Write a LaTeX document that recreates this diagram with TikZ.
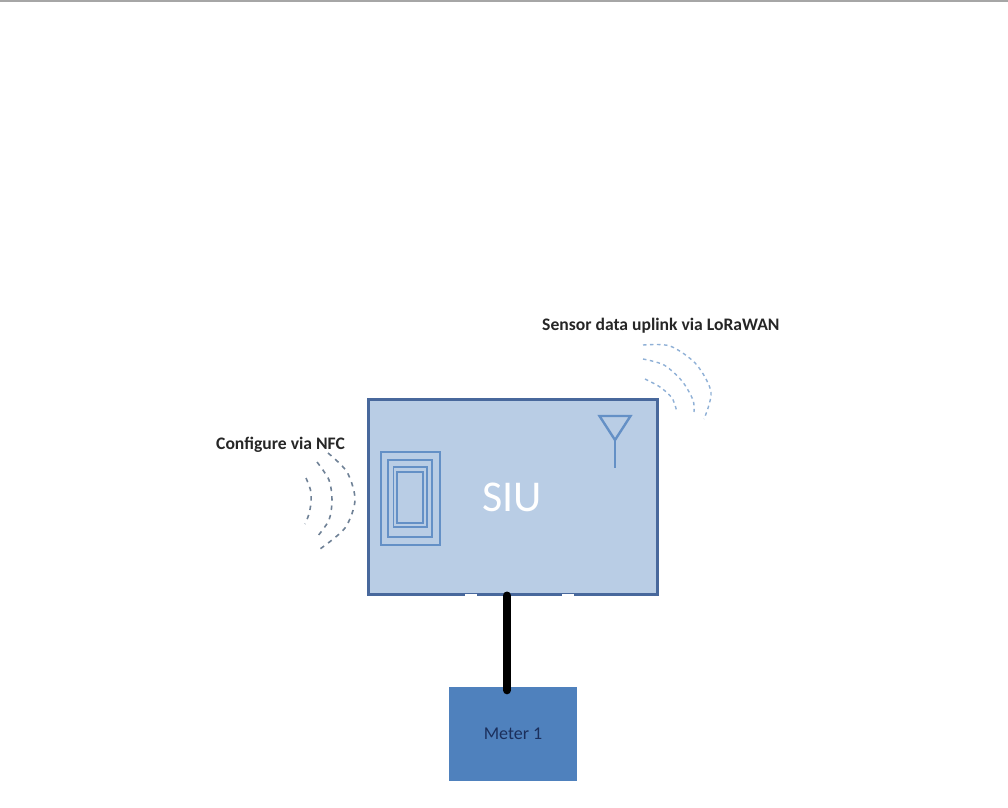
\documentclass[tikz,border=0pt]{standalone}
\usepackage{fontspec}
\setmainfont{Carlito}
\definecolor{siufill}{HTML}{B9CDE5}
\definecolor{siuedge}{HTML}{48689C}
\definecolor{meterfill}{HTML}{4F81BD}
\definecolor{metertext}{HTML}{1B2F5C}
\definecolor{coilblue}{HTML}{6490C6}
\definecolor{wavegrey}{HTML}{6F8196}
\definecolor{wavelight}{HTML}{8FB0D6}
\definecolor{rulegrey}{HTML}{A6A6A6}
\tikzset{
  x=1pt,y=-1pt,
  siubox/.style={draw=siuedge,fill=siufill,line width=3pt,minimum width=289pt,minimum height=195pt,inner sep=0pt},
  meterbox/.style={fill=meterfill,minimum width=128pt,minimum height=94pt,inner sep=0pt,text=metertext,font=\fontsize{18}{22}\selectfont},
  lbl/.style={font=\bfseries\fontsize{17.6}{20}\selectfont,text=black!85,inner sep=0pt},
  coil/.style={draw=coilblue,line width=1.9pt},
  nfcwave/.style={draw=wavegrey,line width=1.6pt,dash pattern=on 4.5pt off 5pt},
  lorawave/.style={draw=wavelight,line width=1.4pt,dash pattern=on 3.5pt off 3.5pt},
  wire/.style={draw=black,line width=8pt,line cap=round},
  ant/.style={draw=coilblue,line width=2.4pt}
}
\begin{document}
\begin{tikzpicture}
\useasboundingbox (0,0) rectangle (1008,807);
\fill[rulegrey] (0,0) rectangle (1008,2);
% boxes
\node[siubox] (siu) at (512.5,496.5) {};
\node[meterbox] (meter) at (513,734) {Meter 1};
\draw[white,line width=2.6pt] (465,595.5) -- (477,595.5) (562,595.5) -- (574,595.5);
\node[text=white,font=\fontsize{44}{50}\selectfont,inner sep=0pt] (siulabel) at (512,497) {SIU};
% wire
\draw[wire] ([xshift=-5.5pt]siu.south) -- ([xshift=-6pt,yshift=-3.5pt]meter.north);
% coil
\draw[coil] (381,452) rectangle (440,545);
\draw[coil] (388,460) rectangle (432,537);
\draw[coil] (393.5,467) rectangle (427,527);
\draw[coil] (397,472) rectangle (423,523);
% antenna
\draw[ant,line join=miter] (599.5,416) -- (630.5,416) -- (615,440) -- cycle;
\draw[ant] (615,440) -- (615,468);
% labels
\node[lbl,anchor=west] (nfc) at (216,444.5) {Configure via NFC};
\node[lbl,anchor=west] (lora) at (542,325.5) {Sensor data uplink via LoRaWAN};
% NFC waves
\draw[nfcwave] plot[smooth] coordinates {(328,453) (347,472) (355,500) (345,528) (320,549)};
\draw[nfcwave] plot[smooth] coordinates {(317,462) (329,480) (332,500) (329,520) (317,537)};
\draw[nfcwave] plot[smooth] coordinates {(306,478) (310.5,490) (311,502) (309,514) (305,524)};
% LoRa waves
\draw[lorawave] plot[smooth] coordinates {(643,345) (670,346) (696,364) (711,392) (704,419)};
\draw[lorawave] plot[smooth] coordinates {(643,359) (664,365) (682,381) (693,400) (694,412)};
\draw[lorawave] plot[smooth] coordinates {(645,379) (660,387) (672,398) (677,412)};
\end{tikzpicture}
\end{document}
